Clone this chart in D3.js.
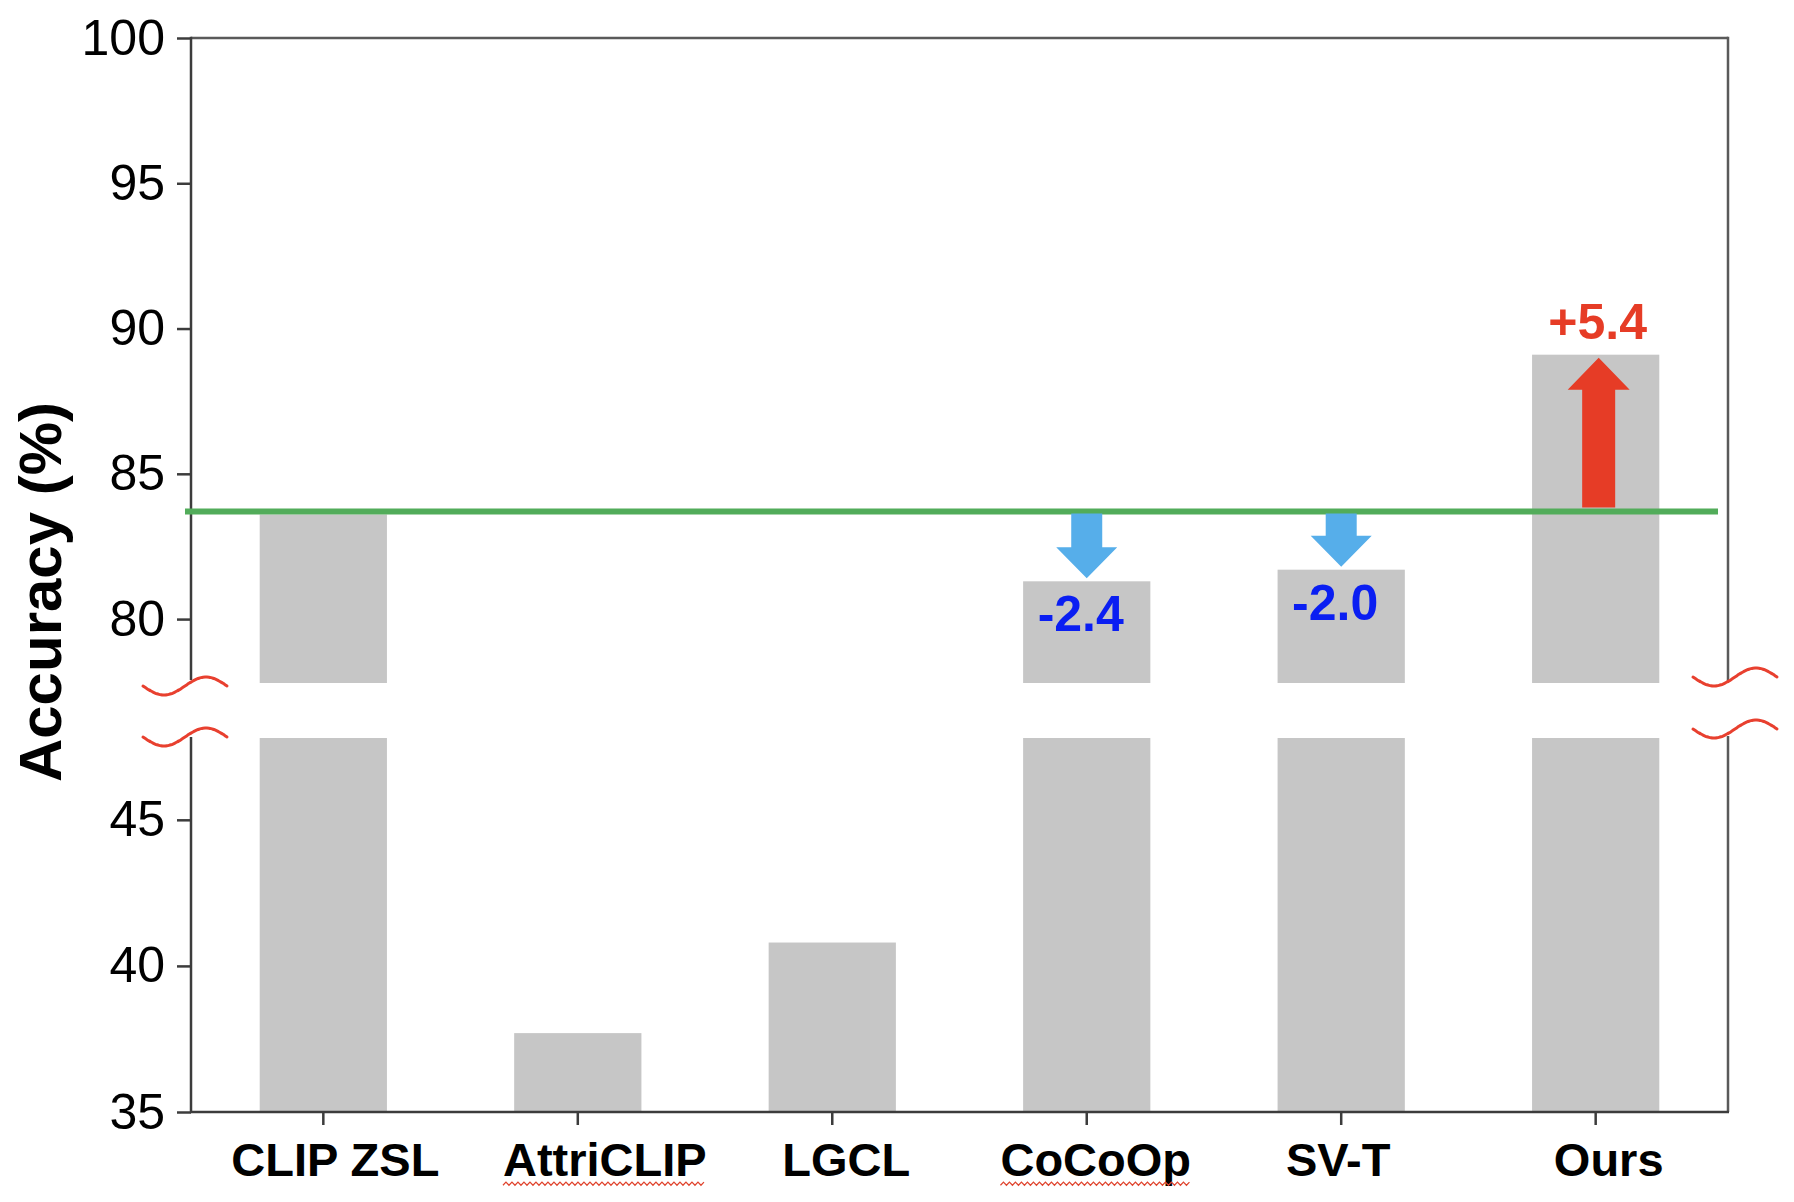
<!DOCTYPE html>
<html>
<head>
<meta charset="utf-8">
<script src="https://cdn.jsdelivr.net/npm/d3@7"></script>
<style>
  html, body { margin: 0; padding: 0; background: #fff; }
  svg { display: block; font-family: "Liberation Sans", Arial, Helvetica, sans-serif; }
</style>
</head>
<body>
<svg id="chart" width="1794" height="1202"></svg>
<script>
// ---------------- data ----------------
const categories = ["CLIP ZSL", "AttriCLIP", "LGCL", "CoCoOp", "SV-T", "Ours"];
const accuracy   = [83.6, 37.7, 40.8, 81.3, 81.7, 89.1];
const baselineValue = 83.7;
const deltaLabels = ["", "", "", "-2.4", "-2.0", "+5.4"];
const upperTicks = [80, 85, 90, 95, 100];
const lowerTicks = [35, 40, 45];
const upperDomain = [77.8, 100];
const lowerDomain = [35, 47.8];
const spellFlagged = ["AttriCLIP", "CoCoOp"];
const yTitle = "Accuracy (%)";

// ---------------- layout / style ----------------
const svg = d3.select("#chart");
const pLeft = 191, pRight = 1728;
const pTop = 38, upperBottom = 683, lowerTop = 738, pBottom = 1112;
// small horizontal nudges of the category labels (as placed in the original figure)
const labelNudge = { "CLIP ZSL": 12, "AttriCLIP": 27, "LGCL": 14, "CoCoOp": 9, "SV-T": -3, "Ours": 13 };

const x = d3.scaleBand().domain(categories).range([pLeft, pRight])
  .paddingInner(0.5).paddingOuter(0.27);
const yU = d3.scaleLinear().domain(upperDomain).range([upperBottom, pTop]);
const yL = d3.scaleLinear().domain(lowerDomain).range([pBottom, lowerTop]);

const barColor = "#c6c6c6";
const axisColor = "#3c3c3c";
const frameColor = "#5a5a5a";
const breakColor = "#e8402f";
const green = "#52ac5a";
const red = "#e63c26";
const blueArrow = "#56aeea";
const blueText = "#0a1ef2";

const data = categories.map((c, i) => ({ cat: c, v: accuracy[i], label: deltaLabels[i] }));

// ---------------- bars ----------------
const bars = svg.append("g");
bars.selectAll("rect.lower").data(data).join("rect")
  .attr("class", "lower")
  .attr("x", d => x(d.cat))
  .attr("width", x.bandwidth())
  .attr("y", d => yL(Math.min(d.v, lowerDomain[1])))
  .attr("height", d => pBottom - yL(Math.min(d.v, lowerDomain[1])))
  .attr("fill", barColor);
bars.selectAll("rect.upper").data(data.filter(d => d.v > upperDomain[0])).join("rect")
  .attr("class", "upper")
  .attr("x", d => x(d.cat))
  .attr("width", x.bandwidth())
  .attr("y", d => yU(d.v))
  .attr("height", d => upperBottom - yU(d.v))
  .attr("fill", barColor);

// ---------------- frame (top + right, broken) ----------------
svg.append("line").attr("x1", pLeft).attr("x2", pRight).attr("y1", pTop).attr("y2", pTop)
  .attr("stroke", frameColor).attr("stroke-width", 2.5);
svg.append("line").attr("x1", pRight).attr("x2", pRight).attr("y1", pTop - 1.2).attr("y2", upperBottom - 2)
  .attr("stroke", frameColor).attr("stroke-width", 2.5);
svg.append("line").attr("x1", pRight).attr("x2", pRight).attr("y1", lowerTop - 2).attr("y2", pBottom)
  .attr("stroke", frameColor).attr("stroke-width", 2.5);

// ---------------- y axes ----------------
function styleAxis(g) {
  g.selectAll("path.domain").attr("stroke", axisColor).attr("stroke-width", 2.5);
  g.selectAll(".tick line").attr("stroke", axisColor).attr("stroke-width", 2.5);
  g.selectAll(".tick text").attr("fill", "#000");
}
const axU = svg.append("g").attr("transform", `translate(${pLeft},0)`)
  .call(d3.axisLeft(yU).tickValues(upperTicks).tickSize(14).tickSizeOuter(0).tickPadding(12))
  .attr("font-size", 50).attr("font-family", null);
styleAxis(axU);
const axL = svg.append("g").attr("transform", `translate(${pLeft},0)`)
  .call(d3.axisLeft(yL).tickValues(lowerTicks).tickSize(14).tickSizeOuter(0).tickPadding(12))
  .attr("font-size", 50).attr("font-family", null);
styleAxis(axL);
axU.select("path.domain").attr("d", `M0,${pTop - 1.2}V${upperBottom - 3}`);
axL.select("path.domain").attr("d", `M0,${lowerTop - 1}V${pBottom}`);

// ---------------- x axis ----------------
const axX = svg.append("g").attr("transform", `translate(0,${pBottom})`)
  .call(d3.axisBottom(x).tickSize(13).tickSizeOuter(0).tickPadding(18))
  .attr("font-size", 47).attr("font-family", null).attr("font-weight", "bold");
axX.select("path.domain").attr("d", `M${pLeft - 1},0H${pRight + 1}`)
  .attr("stroke", axisColor).attr("stroke-width", 2.5);
axX.selectAll(".tick line").attr("stroke", axisColor).attr("stroke-width", 2.5);
axX.selectAll(".tick text").attr("fill", "#000").attr("dx", d => labelNudge[d] || 0);

// spell-check style wavy underline under flagged labels
axX.selectAll(".tick").each(function(d) {
  if (!spellFlagged.includes(d)) return;
  const t = d3.select(this).select("text").node();
  const bb = t.getBBox();
  const y0 = 13 + 18 + 0.716 * 47 + 7;
  const pts = [];
  for (let xx = bb.x, k = 0; xx <= bb.x + bb.width; xx += 3, k++) {
    pts.push([xx, y0 + (k % 2 ? -1.6 : 1.6)]);
  }
  d3.select(this).append("path").attr("d", d3.line()(pts))
    .attr("fill", "none").attr("stroke", "#e0452f").attr("stroke-width", 1.2);
});

// ---------------- axis title ----------------
svg.append("text")
  .attr("transform", `translate(61,${(400 + 784) / 2}) rotate(-90)`)
  .attr("text-anchor", "middle")
  .attr("font-size", 60).attr("font-weight", "bold").attr("fill", "#000")
  .text(yTitle);

// ---------------- baseline (green) ----------------
svg.append("line")
  .attr("x1", pLeft - 6).attr("x2", pRight - 10)
  .attr("y1", yU(baselineValue)).attr("y2", yU(baselineValue))
  .attr("stroke", green).attr("stroke-width", 6);

// ---------------- arrows + delta labels ----------------
function arrowPath(cx, y0, y1, shaftHalf, headHalf, headLen) {
  const dir = y1 > y0 ? 1 : -1;
  const hb = y1 - dir * headLen;
  return `M${cx - shaftHalf},${y0}L${cx + shaftHalf},${y0}L${cx + shaftHalf},${hb}` +
         `L${cx + headHalf},${hb}L${cx},${y1}L${cx - headHalf},${hb}L${cx - shaftHalf},${hb}Z`;
}
const ann = svg.append("g");
data.filter(d => d.label !== "").forEach(d => {
  const cx = x(d.cat) + x.bandwidth() / 2;
  const yb = yU(baselineValue);
  const yt = yU(d.v);
  if (d.v < baselineValue) {
    ann.append("path").attr("d", arrowPath(cx, yb + 2, yt - 3, 15.5, 30.5, 31))
      .attr("fill", blueArrow);
    ann.append("text").attr("x", cx - 6).attr("y", yt + 50)
      .attr("text-anchor", "middle").attr("font-size", 50).attr("font-weight", "bold")
      .attr("fill", blueText).text(d.label);
  } else {
    ann.append("path").attr("d", arrowPath(cx + 3, yb - 4, yt + 3, 16.5, 31, 32))
      .attr("fill", red);
    ann.append("text").attr("x", cx + 2).attr("y", yt - 16)
      .attr("text-anchor", "middle").attr("font-size", 50).attr("font-weight", "bold")
      .attr("fill", red).text(d.label);
  }
});

// ---------------- break marks ----------------
const wavePts = d3.range(0, 85, 2).map(t => [t - 48, 9 * Math.sin(2 * Math.PI * t / 84)]);
const wave = d3.line().curve(d3.curveBasis)(wavePts);
const breaks = [
  [pLeft, upperBottom + 3], [pLeft, lowerTop - 1],
  [pRight + 13, upperBottom - 6], [pRight + 13, lowerTop - 9]
];
svg.append("g").selectAll("path").data(breaks).join("path")
  .attr("transform", d => `translate(${d[0]},${d[1]})`)
  .attr("d", wave).attr("fill", "none")
  .attr("stroke", breakColor).attr("stroke-width", 3).attr("stroke-linecap", "round");
</script>
</body>
</html>
